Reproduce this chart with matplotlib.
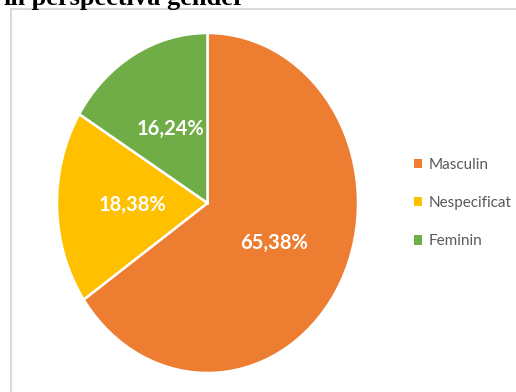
import matplotlib.pyplot as plt
from matplotlib.lines import Line2D

# date
categorii = ["Masculin", "Nespecificat", "Feminin"]
procente = [65.38, 18.38, 16.24]
culori = ["#ED7D31", "#FFC000", "#70AD47"]
titlu = "în perspectiva gender"

W, H = 516, 392
fig = plt.figure(figsize=(W / 100, H / 100), dpi=100)

# chenarul graficului (taiat in dreapta si jos)
fig.add_artist(Line2D([11 / W, 1], [1 - 9 / H, 1 - 9 / H], color="#d9d9d9", lw=1.5))
fig.add_artist(Line2D([11 / W, 11 / W], [0, 1 - 9 / H], color="#d9d9d9", lw=1.5))

# titlul, taiat sus ca in original
fig.text(245 / W, 1 - 5 / H, titlu, ha="right", va="baseline",
         fontsize=19, fontweight="bold", family="Liberation Serif")

ax = fig.add_axes([57 / W, 19 / H, 301 / W, 340 / H])
wedges, texte, pct = ax.pie(
    procente, colors=culori, startangle=90, counterclock=False,
    autopct=lambda p: f"{p:.2f}%".replace(".", ","), pctdistance=0.5,
    wedgeprops=dict(edgecolor="white", linewidth=1.8),
    textprops=dict(color="white", fontsize=14.5, fontweight="bold", family="Lato"),
)
ax.set_aspect("auto")
ax.set_xlim(-1, 1)
ax.set_ylim(-1, 1)

leg = fig.legend(wedges, categorii, loc="center left", bbox_to_anchor=(400 / W, 1 - 203 / H),
                 frameon=False, handlelength=0.55, handleheight=0.55, handletextpad=0.4,
                 labelspacing=1.6, prop=dict(family="Lato", size=11))
for t in leg.get_texts():
    t.set_color("#595959")
for h in leg.legend_handles:
    h.set_edgecolor("none")

fig.savefig("out.png", dpi=100)
